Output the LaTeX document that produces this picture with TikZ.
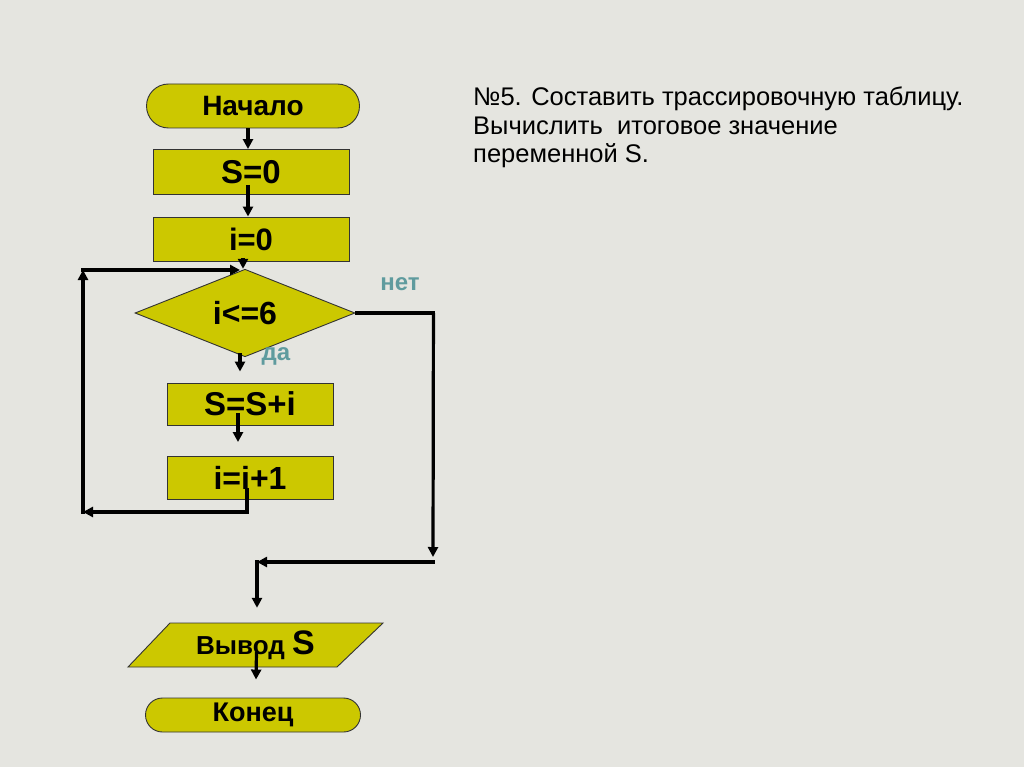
\documentclass[tikz,border=0pt]{standalone}
\usepackage{fontspec}
\setmainfont{Liberation Sans}
\usetikzlibrary{arrows.meta,shapes.geometric,calc}
\definecolor{bgc}{RGB}{229,229,224}
\definecolor{boxc}{RGB}{204,200,0}
\definecolor{lblc}{RGB}{95,155,158}
\begin{document}
\begin{tikzpicture}[x=1pt,y=-1pt,
  box/.style={draw=black!80,line width=0.9pt,fill=boxc,inner sep=0pt,font=\bfseries},
  term/.style={box,rounded corners=17pt},
  arr/.style={line width=3.2pt,-{Triangle[length=10pt,width=10pt]}},
  seg/.style={line width=3.2pt},
  lbl/.style={font=\bfseries\fontsize{24}{26}\selectfont,text=lblc},
  txt/.style={font=\fontsize{25.5}{28.5}\selectfont,align=left,inner sep=0pt}]
\fill[bgc] (0,0) rectangle (1024,767);
\useasboundingbox (0,0) rectangle (1024,767);
% nodes
\node[term,rounded corners=22pt,minimum width=213pt,minimum height=44pt,font=\bfseries\fontsize{28}{28}\selectfont] (start) at (253,106) {Начало};
\node[box,minimum width=196pt,minimum height=45pt,font=\bfseries\fontsize{33}{33}\selectfont] (s0) at (251,172) {S=0};
\node[box,minimum width=196pt,minimum height=44pt,font=\bfseries\fontsize{31}{33}\selectfont] (i0) at (251,239) {i=0};
\node[box,shape=diamond,minimum width=220pt,minimum height=58pt,font=\bfseries\fontsize{32}{33}\selectfont] (cond) at (245,313) {i<=6};
\node[box,minimum width=166pt,minimum height=42pt,font=\bfseries\fontsize{33}{33}\selectfont] (ssi) at (250,404) {S=S+i};
\node[box,minimum width=166pt,minimum height=43pt,font=\bfseries\fontsize{32}{33}\selectfont] (ii1) at (250,478) {i=i+1};
\fill[boxc,draw=black!80,line width=0.9pt] (170,623) -- (383,623) -- (337,667) -- (128,667) -- cycle;
\node[inner sep=0pt,minimum width=213pt,minimum height=44pt,font=\bfseries\fontsize{26}{28}\selectfont] (out) at (255.5,645) {Вывод {\fontsize{34}{34}\selectfont S}};
\node[term,minimum width=215pt,minimum height=34pt,font=\bfseries\fontsize{27}{28}\selectfont] (end) at (253,715) {Конец};
% labels
\node[lbl] (no) at (400,284) {нет};
\node[lbl] (yes) at (276,356) {да};
% text
\node[txt,anchor=north west] (task) at (473,87) {№5. Составить трассировочную таблицу.\\Вычислить\ \ итоговое значение\\переменной S.};
% coordinates
\coordinate (lb) at (83,512);
\coordinate (lt) at (83,270);
\coordinate (lin) at (240,270);
\coordinate (rt) at ($(cond.east)+(78,0)$);
\coordinate (rb) at (433,562);
\coordinate (mb) at (257,562);
% connectors
\draw[arr] ([xshift=-5pt]start.south) -- ([xshift=-3pt]s0.north);
\draw[arr] ([xshift=-3pt,yshift=10pt]s0.south) -- ([xshift=-3pt]i0.north);
\draw[arr] ([xshift=-8pt,yshift=3pt]i0.south) -- ([xshift=-2pt]cond.north);
\draw[arr] ([xshift=-5pt,yshift=4pt]cond.south) -- ([xshift=-10pt,yshift=11pt]ssi.north);
\draw[arr] ([xshift=-12pt,yshift=12pt]ssi.south) -- ([xshift=-12pt,yshift=14pt]ii1.north);
\draw[arr] ([xshift=-3pt,yshift=12pt]ii1.south) |- (lb);
\draw[arr] ([yshift=-1.6pt]lb) -- (lt);
\draw[arr] ([xshift=-1.6pt]lt) -- (lin);
\draw[seg] (cond.east) -- ([xshift=1.6pt]rt);
\draw[arr] (rt) -- ([yshift=5pt]rb);
\draw[arr] ([xshift=1.6pt]rb) -- (mb);
\draw[arr] ([yshift=1.6pt]mb) -- ([xshift=1.5pt,yshift=15pt]out.north);
\draw[arr] ([xshift=1pt,yshift=15pt]out.south) -- ([xshift=3pt,yshift=18pt]end.north);
\end{tikzpicture}
\end{document}
